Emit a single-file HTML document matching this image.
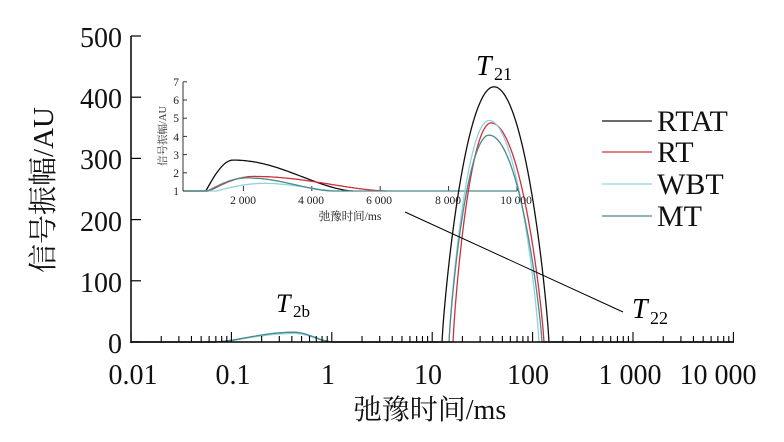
<!DOCTYPE html>
<html><head><meta charset="utf-8">
<style>
html,body{margin:0;padding:0;background:#fff;}
svg{display:block;font-family:"Liberation Serif","Noto Serif CJK SC",serif;}
</style></head>
<body>
<svg id="s" width="784" height="442" viewBox="0 0 784 442" xmlns="http://www.w3.org/2000/svg">
<g id="g"></g>
<line x1="131" y1="36" x2="131" y2="343" stroke="#000" stroke-width="1.5"/>
<line x1="131" y1="342" x2="734" y2="342" stroke="#000" stroke-width="1.5"/>
<g stroke="#000" stroke-width="1.2" id="yt"></g>
<g font-size="28" text-anchor="end" fill="#111">
<text x="122" y="47">500</text><text x="122" y="108">400</text><text x="122" y="169">300</text>
<text x="122" y="231">200</text><text x="122" y="292">100</text><text x="122" y="353">0</text>
</g>
<g font-size="28" text-anchor="middle" fill="#111">
<text x="133" y="384">0.01</text><text x="233" y="384">0.1</text><text x="328" y="384">1</text>
<text x="428" y="384">10</text><text x="528" y="384">100</text><text x="630" y="384">1 000</text><text x="718" y="384">10 000</text>
</g>
<text x="430" y="419" font-size="28" text-anchor="middle" fill="#111">弛豫时间/ms</text>
<text transform="translate(53,190) rotate(-90)" font-size="29" text-anchor="middle" fill="#111">信号振幅/AU</text>
<line x1="183" y1="82" x2="183" y2="191" stroke="#333" stroke-width="1"/>
<g font-size="11.5" text-anchor="end" fill="#222">
<text x="179" y="86">7</text><text x="179" y="104">6</text><text x="179" y="122">5</text><text x="179" y="141">4</text>
<text x="179" y="159">3</text><text x="179" y="177">2</text><text x="179" y="195">1</text>
</g>
<g font-size="11.5" text-anchor="middle" fill="#222">
<text x="243" y="204">2 000</text><text x="311" y="204">4 000</text><text x="379" y="204">6 000</text>
<text x="448" y="204">8 000</text><text x="516" y="204">10 000</text>
</g>
<text x="350" y="220" font-size="11.5" text-anchor="middle" fill="#222">弛豫时间/ms</text>
<text transform="translate(166,136) rotate(-90)" font-size="10.5" text-anchor="middle" fill="#333">信号振幅/AU</text>
<line x1="405" y1="212" x2="623" y2="312" stroke="#000" stroke-width="1"/>
<text x="476" y="75" font-size="28" font-style="italic">T</text><text x="494" y="80" font-size="18">21</text>
<text x="632" y="318" font-size="28" font-style="italic">T</text><text x="650" y="324" font-size="18">22</text>
<text x="276" y="312" font-size="26" font-style="italic">T</text><text x="293" y="317" font-size="17">2b</text>
<line x1="602" y1="121" x2="652" y2="121" stroke="#111" stroke-width="1.2"/>
<line x1="602" y1="152" x2="652" y2="152" stroke="#d0303c" stroke-width="1.2"/>
<line x1="602" y1="184" x2="652" y2="184" stroke="#8fd3dc" stroke-width="1.2"/>
<line x1="602" y1="216" x2="652" y2="216" stroke="#4a8a8c" stroke-width="1.2"/>
<g font-size="30" fill="#111">
<text x="657" y="131">RTAT</text><text x="657" y="162">RT</text><text x="657" y="194">WBT</text><text x="657" y="226">MT</text>
</g>
</svg>
<script>
var NS="http://www.w3.org/2000/svg",g=document.getElementById('g'),yt=document.getElementById('yt');
function el(t,a,p){var e=document.createElementNS(NS,t);for(var k in a)e.setAttribute(k,a[k]);(p||g).appendChild(e);return e;}
for(var i=0;i<=5;i++){var y=342-i*61.2;el('line',{x1:131,y1:y,x2:141,y2:y},yt);}
function X(v){return 131+100.4*(Math.log10(v)+2);}
for(var d=-2;d<=4;d++){for(var m=1;m<=9;m++){var v=m*Math.pow(10,d);if(v>10000)break;var x=X(v);
 el('line',{x1:x,y1:342,x2:x,y2:m==1?332:336,stroke:'#000','stroke-width':1.1},yt);}}
for(var i=1;i<=7;i++){var y=191-18.2*(i-1);el('line',{x1:183,y1:y,x2:187,y2:y,stroke:'#333','stroke-width':1});}
[2000,4000,6000,8000,10000].forEach(function(v){var x=175+0.0342*v;el('line',{x1:x,y1:191,x2:x,y2:186,stroke:'#333','stroke-width':1});});
var cols={RTAT:'#111',RT:'#d0303c',WBT:'#8fd3dc',MT:'#4a8a8c'};
function IX(ms){return 175+0.0342*ms;} function IY(v){return 191-18.2*(v-1);}
var ins={
 RTAT:{s:900,p:1700,a:2.7,e:5200},
 RT:{s:1000,p:2300,a:1.8,e:6200},
 WBT:{s:1200,p:2600,a:1.42,e:4800},
 MT:{s:950,p:2100,a:1.72,e:4600}};
['RTAT','RT','WBT','MT'].forEach(function(k){var c=ins[k],d='M183,191 L'+IX(c.s)+',191';
 for(var ms=c.s;ms<=c.e;ms+=50){var u,v;if(ms<c.p){u=(ms-c.s)/(c.p-c.s);v=Math.sin(u*Math.PI/2);}else{u=(ms-c.p)/(c.e-c.p);v=Math.pow(Math.cos(u*Math.PI/2),1.6);}
  d+=' L'+IX(ms).toFixed(1)+','+IY(1+(c.a-1)*v).toFixed(1);}
 if(k=='MT')d+=' L517,191';
 el('path',{d:d,fill:'none',stroke:cols[k],'stroke-width':1.3});});
var pk={RTAT:{l:442,c:494,r:549,a:417},RT:{l:453,c:491,r:544,a:358},WBT:{l:449,c:489,r:539,a:362},MT:{l:449,c:489,r:542,a:338}};
['RTAT','RT','WBT','MT'].forEach(function(k){var p=pk[k],d='M131,342';
 for(var x=215;x<=334;x+=2){var u=x<294?(x-215)/79:(x-294)/40;var v=x<294?Math.sin(u*Math.PI/2):Math.pow(Math.cos(u*Math.PI/2),1.3);
  var a=k=='WBT'?14:(k=='MT'?16:15);d+=' L'+x+','+(342-0.612*a*Math.pow(v,1.5)).toFixed(1);}
 d+=' L'+p.l+',342';
 for(var x=p.l;x<=p.r;x+=1){var u=x<p.c?(p.c-x)/(p.c-p.l):(x-p.c)/(p.r-p.c);var v=1-u*u;v=Math.max(0,v);v=Math.pow(v,0.85);
  d+=' L'+x+','+(342-0.612*p.a*v).toFixed(1);}
 d+=' L734,342';
 el('path',{d:d,fill:'none',stroke:cols[k],'stroke-width':1.3});});
</script>
</body></html>
